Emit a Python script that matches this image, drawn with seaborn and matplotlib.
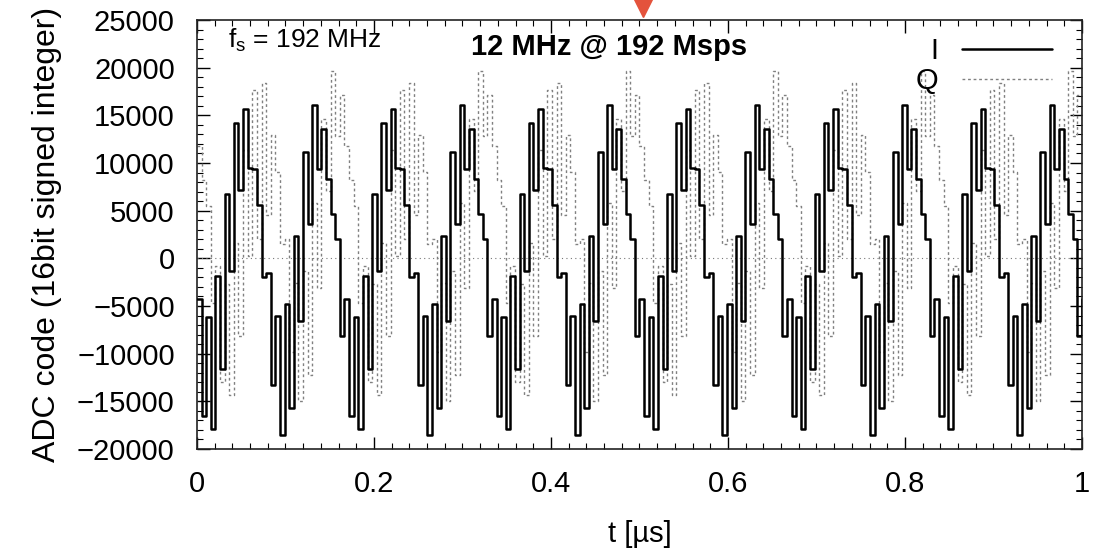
import numpy as np
import pandas as pd
import matplotlib
matplotlib.use("Agg")
import matplotlib.pyplot as plt
import seaborn as sns
from matplotlib.ticker import MultipleLocator
from matplotlib.lines import Line2D

# ADC samples, 192 Msps, 12 MHz tone (16 samples per period).
# The pattern alternates between two kinds of period (odd / even periods).
fs_msps = 192
I_codes = [
    -4300, -16500, -6200, -17900, -1850, -11600, 6700, -1300, 14200, 7200, 15700, 9500, 9400, 5600, -2000, -1500,
    -13300, -6050, -18500, -4800, -15700, 2350, -6600, 11150, 3600, 16100, 9350, 13600, 8300, 4700, 2000, -8200,
    -4300, -16500, -6200, -17900, -1850, -11600, 6700, -1300, 14200, 7200, 15700, 9500, 9400, 5600, -2000, -1500,
    -13300, -6050, -18500, -4800, -15700, 2350, -6600, 11150, 3600, 16100, 9350, 13600, 8300, 4700, 2000, -8200,
    -4300, -16500, -6200, -17900, -1850, -11600, 6700, -1300, 14200, 7200, 15700, 9500, 9400, 5600, -2000, -1500,
    -13300, -6050, -18500, -4800, -15700, 2350, -6600, 11150, 3600, 16100, 9350, 13600, 8300, 4700, 2000, -8200,
    -4300, -16500, -6200, -17900, -1850, -11600, 6700, -1300, 14200, 7200, 15700, 9500, 9400, 5600, -2000, -1500,
    -13300, -6050, -18500, -4800, -15700, 2350, -6600, 11150, 3600, 16100, 9350, 13600, 8300, 4700, 2000, -8200,
    -4300, -16500, -6200, -17900, -1850, -11600, 6700, -1300, 14200, 7200, 15700, 9500, 9400, 5600, -2000, -1500,
    -13300, -6050, -18500, -4800, -15700, 2350, -6600, 11150, 3600, 16100, 9350, 13600, 8300, 4700, 2000, -8200,
    -4300, -16500, -6200, -17900, -1850, -11600, 6700, -1300, 14200, 7200, 15700, 9500, 9400, 5600, -2000, -1500,
    -13300, -6050, -18500, -4800, -15700, 2350, -6600, 11150, 3600, 16100, 9350, 13600, 8300, 4700, 2000, -8200,
    -4300,
]
Q_codes = [
    11800, 8200, 5500, -4700, -800, -13000, -2700, -14300, 1650, -8100, 11400, 250, 17700, 2000, 18400, 4500,
    12900, 9100, 1500, 2000, -9800, -2550, -15000, -1300, -12200, 5850, -3100, 14650, 7100, 19600, 12850, 17100,
    11800, 8200, 5500, -4700, -800, -13000, -2700, -14300, 1650, -8100, 11400, 250, 17700, 2000, 18400, 4500,
    12900, 9100, 1500, 2000, -9800, -2550, -15000, -1300, -12200, 5850, -3100, 14650, 7100, 19600, 12850, 17100,
    11800, 8200, 5500, -4700, -800, -13000, -2700, -14300, 1650, -8100, 11400, 250, 17700, 2000, 18400, 4500,
    12900, 9100, 1500, 2000, -9800, -2550, -15000, -1300, -12200, 5850, -3100, 14650, 7100, 19600, 12850, 17100,
    11800, 8200, 5500, -4700, -800, -13000, -2700, -14300, 1650, -8100, 11400, 250, 17700, 2000, 18400, 4500,
    12900, 9100, 1500, 2000, -9800, -2550, -15000, -1300, -12200, 5850, -3100, 14650, 7100, 19600, 12850, 17100,
    11800, 8200, 5500, -4700, -800, -13000, -2700, -14300, 1650, -8100, 11400, 250, 17700, 2000, 18400, 4500,
    12900, 9100, 1500, 2000, -9800, -2550, -15000, -1300, -12200, 5850, -3100, 14650, 7100, 19600, 12850, 17100,
    11800, 8200, 5500, -4700, -800, -13000, -2700, -14300, 1650, -8100, 11400, 250, 17700, 2000, 18400, 4500,
    12900, 9100, 1500, 2000, -9800, -2550, -15000, -1300, -12200, 5850, -3100, 14650, 7100, 19600, 12850, 17100,
    11800,
]

y_ticks = [-20000, -15000, -10000, -5000, 0, 5000, 10000, 15000, 20000, 25000]
x_ticks = [0, 0.2, 0.4, 0.6, 0.8, 1]
x_labels = ["0", "0.2", "0.4", "0.6", "0.8", "1"]

df = pd.DataFrame({
    "t": np.arange(len(I_codes)) / fs_msps,
    "I": I_codes,
    "Q": Q_codes,
})

sns.set_theme(style="ticks")
plt.rcParams["font.family"] = ["Liberation Sans", "DejaVu Sans"]
plt.rcParams["mathtext.fontset"] = "custom"
plt.rcParams["mathtext.rm"] = "Liberation Sans"
plt.rcParams["text.color"] = "black"
plt.rcParams["axes.labelcolor"] = "black"

fig = plt.figure(figsize=(10.98, 5.52), dpi=100)
ax = fig.add_axes([0.1794, 0.1866, 0.806, 0.7772])

ax.axhline(0, color="#777777", lw=0.8, ls=(0, (1, 3)), zorder=1)
sns.lineplot(data=df, x="t", y="Q", ax=ax, estimator=None, sort=False,
             drawstyle="steps-post", color="#808080", lw=1.0, ls=(0, (2, 2)), zorder=2)
sns.lineplot(data=df, x="t", y="I", ax=ax, estimator=None, sort=False,
             drawstyle="steps-post", color="black", lw=1.8, zorder=3)

ax.set_xlim(0, 1)
ax.set_ylim(-20000, 25000)
ax.set_xticks(x_ticks)
ax.set_xticklabels(x_labels)
ax.set_yticks(y_ticks)
ax.xaxis.set_minor_locator(MultipleLocator(0.02))
ax.yaxis.set_minor_locator(MultipleLocator(1000))
ax.tick_params(which="both", direction="in", top=True, right=True, labelsize=21, colors="black")
ax.tick_params(axis="y", which="major", length=9, width=1, pad=16)
ax.tick_params(axis="x", which="major", length=9, width=1, pad=15)
ax.tick_params(which="minor", length=4.5, width=0.8)
for s in ax.spines.values():
    s.set_linewidth(1.2)
    s.set_color("#222222")

ax.set_xlabel("t [µs]", fontsize=21, labelpad=16)
ax.set_ylabel("ADC code (16bit signed integer)", fontsize=23, labelpad=11)

ax.text(0.035, 0.952, r"$\mathregular{f_s}$ = 192 MHz", transform=ax.transAxes,
        fontsize=19, va="center", ha="left")
ax.text(0.466, 0.938, "12 MHz @ 192 Msps", transform=ax.transAxes,
        fontsize=21, fontweight="bold", va="center", ha="center")

handles = [Line2D([], [], color="black", lw=1.8),
           Line2D([], [], color="#808080", lw=1.0, ls=(0, (2, 2)))]
ax.legend(handles, ["I", "Q"], loc="upper right", frameon=False, markerfirst=False,
          fontsize=21, handlelength=3.1, handletextpad=0.8, labelspacing=0.05,
          borderaxespad=0.2, bbox_to_anchor=(0.986, 1.0))

# red marker above the plot
ax.plot([0.504], [26400], marker="v", ms=14, color="#e4533c", clip_on=False, zorder=5)

fig.savefig("out.png", dpi=100)
